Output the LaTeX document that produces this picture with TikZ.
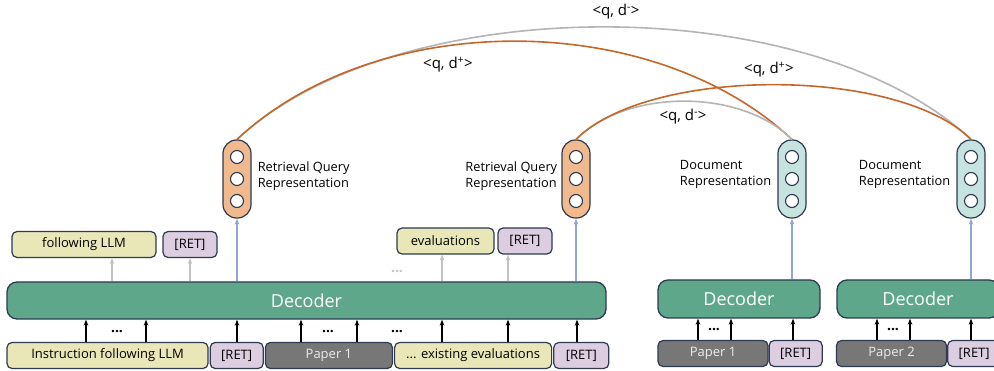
\documentclass[tikz,border=0pt]{standalone}
\usepackage{fontspec}
\setmainfont{Open Sans}
\usetikzlibrary{calc,positioning,arrows.meta}

\definecolor{navy}{HTML}{2D3A52}
\definecolor{decgreen}{HTML}{5EA78B}
\definecolor{llmyellow}{HTML}{E9E7B8}
\definecolor{retpurple}{HTML}{DCCDE1}
\definecolor{papergray}{HTML}{777777}
\definecolor{papertext}{HTML}{EDEDED}
\definecolor{qorange}{HTML}{F1B98E}
\definecolor{dteal}{HTML}{C6E3DF}
\definecolor{pairorange}{HTML}{C5672B}
\definecolor{pairgray}{HTML}{B4B4B4}
\definecolor{upblue}{HTML}{8EA7DB}
\definecolor{upgray}{HTML}{C2C2C2}

\tikzset{
  box/.style={draw=navy, line width=1.2pt, rounded corners=5pt, minimum height=26pt,
    inner sep=0pt, font=\fontsize{13}{15}\selectfont},
  llm/.style={box, fill=llmyellow},
  ret/.style={box, fill=retpurple},
  paper/.style={box, fill=papergray, text=papertext},
  dec/.style={draw=navy, line width=1.3pt, fill=decgreen, rounded corners=10pt,
    text=white, inner sep=0pt, font=\fontsize{18}{22}\selectfont},
  qrep/.style={draw=navy, line width=1.2pt, fill=qorange, rounded corners=13.5pt,
    minimum width=28pt, minimum height=78pt, inner sep=0pt},
  drep/.style={qrep, fill=dteal},
  cell/.style={circle, draw=navy, line width=1.1pt, fill=white, minimum size=13pt, inner sep=0pt},
  replabel/.style={align=left, inner sep=0pt, font=\fontsize{12.8}{16}\selectfont},
  pairlabel/.style={inner sep=0pt, font=\fontsize{15}{17}\selectfont},
  dots/.style={inner sep=0pt, font=\fontsize{14}{15}\selectfont\bfseries},
  feed/.style={-{Stealth[length=6pt,width=4.5pt]}, line width=1.3pt, black},
  emit/.style={feed, draw=upgray},
  enc/.style={feed, draw=upblue},
  pair/.style={line width=1.6pt},
}

\begin{document}
\begin{tikzpicture}[x=1pt,y=-1pt]
\useasboundingbox (0,0) rectangle (994,371);

% main decoder and its inputs
\node[dec, minimum width=599pt, minimum height=37pt] (dec) at (306.5,300.5) {Decoder};
\node[llm, minimum width=201pt] (instr) at (107.5,355.5) {Instruction following LLM};
\node[ret, minimum width=53pt, right=1pt of instr] (ret1) {[RET]};
\node[paper, minimum width=127pt, right=1pt of ret1] (paper1) {Paper 1};
\node[llm, minimum width=157pt, right=1pt of paper1] (exist) {... existing evaluations};
\node[ret, minimum width=55pt, right=1pt of exist] (ret2) {[RET]};

% generated tokens
\node[llm, minimum width=144pt] (follow) at (84,244.5) {following LLM};
\node[ret, minimum width=54pt] (rettop1) at (190,244.5) {[RET]};
\node[llm, minimum width=97pt] (evals) at (445.5,241) {evaluations};
\node[ret, minimum width=54pt] (rettop2) at (525,241) {[RET]};

% document decoders
\node[dec, minimum width=162pt, minimum height=38pt] (dectwo) at (739,299) {Decoder};
\node[paper, minimum width=110pt] (papertwo) at (713,353.5) {Paper 1};
\node[ret, minimum width=53pt, right=0pt of papertwo] (retthree) {[RET]};
\node[dec, minimum width=162pt, minimum height=38pt] (decthree) at (918,299) {Decoder};
\node[paper, minimum width=110pt] (paperthree) at (891.5,353.5) {Paper 2};
\node[ret, minimum width=53pt, right=0pt of paperthree] (retfour) {[RET]};

% representations
\node[qrep] (qone) at (237,179) {};
\node[qrep] (qtwo) at (576,179) {};
\node[drep] (done) at (792,179) {};
\node[drep] (dtwo) at (971,179) {};
\foreach \r in {qone,qtwo,done,dtwo}
  \foreach \n/\dy in {a/-22,b/0,c/22}
    \node[cell] (\r\n) at ($(\r)+(0,\dy)$) {};

\node[replabel, right=6pt of qone, yshift=3pt] (qonelabel) {Retrieval Query\\Representation};
\node[replabel, left=4pt of qtwo, yshift=3pt] (qtwolabel) {Retrieval Query\\Representation};
\node[replabel, left=6pt of done, yshift=5pt] (donelabel) {Document\\Representation};
\node[replabel, left=6pt of dtwo, yshift=5pt] (dtwolabel) {Document\\Representation};

% input arrows
\foreach \x in {86,146,237,301,357,442,508,577}
  \draw[feed] (instr.north -| \x,0) -- (dec.south -| \x,0);
\foreach \x in {698,731,793}
  \draw[feed] (papertwo.north -| \x,0) -- (dectwo.south -| \x,0);
\foreach \x in {877,910,971}
  \draw[feed] (paperthree.north -| \x,0) -- (decthree.south -| \x,0);
\node[dots] (dotsa) at (117,332) {...};
\node[dots] (dotsb) at (328,332) {...};
\node[dots] (dotsc) at (397,332) {...};
\node[dots] (dotsd) at (714,330) {...};
\node[dots] (dotse) at (893,330) {...};
\node[dots, text=upgray] (dotsf) at (397,272) {...};

% output arrows
\draw[emit] (dec.north -| 112,0) -- (follow.south -| 112,0);
\draw[emit] (dec.north -| 190,0) -- (rettop1.south -| 190,0);
\draw[emit] (dec.north -| 442,0) -- (evals.south -| 442,0);
\draw[emit] (dec.north -| 508,0) -- (rettop2.south -| 508,0);
\draw[enc] (dec.north -| qone) -- (qone.south);
\draw[enc] (dec.north -| qtwo) -- (qtwo.south);
\draw[enc] (dectwo.north -| done) -- (done.south);
\draw[enc] (decthree.north -| dtwo) -- (dtwo.south);

% query-document pairs
\draw[pair, pairgray] (qone.north) .. controls +(161,-150) and +(-161,-150) .. (dtwo.north);
\draw[pair, pairorange] (qone.north) .. controls +(140,-131) and +(-140,-131) .. (done.north);
\draw[pair, pairgray] (qtwo.north) .. controls +(51,-51) and +(-51,-51) .. (done.north);
\draw[pair, pairorange] (qtwo.north) .. controls +(73,-73) and +(-73,-73) .. (dtwo.north);
\node[pairlabel] (negone) at (616,12) {<q, d\textsuperscript{-}>};
\node[pairlabel] (posone) at (448,65) {<q, d\textsuperscript{+}>};
\node[pairlabel] (postwo) at (769,70) {<q, d\textsuperscript{+}>};
\node[pairlabel] (negtwo) at (683,117) {<q, d\textsuperscript{-}>};
\end{tikzpicture}
\end{document}
